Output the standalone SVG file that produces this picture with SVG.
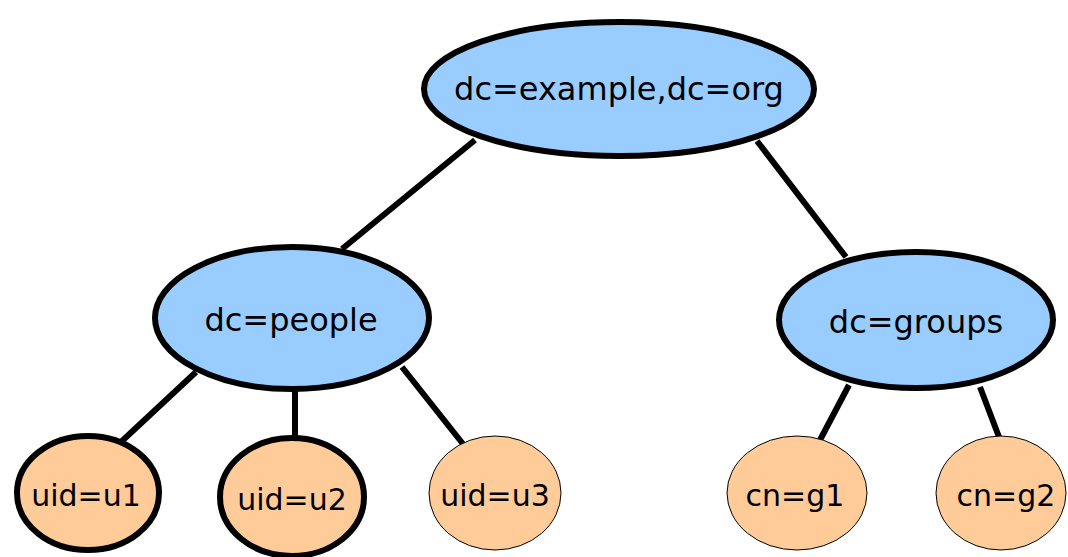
<svg xmlns="http://www.w3.org/2000/svg" width="1068" height="557" viewBox="0 0 1068 557">
<style>
.blue{fill:#99ccff;stroke:#000;stroke-width:6}
.org{fill:#ffcc99;stroke:#000;stroke-width:6}
.orgt{fill:#ffcc99;stroke:#000;stroke-width:1}
text{font-family:"DejaVu Sans",sans-serif;font-size:30px;fill:#000;text-anchor:middle}
text.big{font-size:32px}
.e{stroke:#000;stroke-width:6;fill:none}
</style>
<rect width="1068" height="557" fill="#fff"/>
<g id="connectors">
<line class="e" x1="475" y1="140" x2="342" y2="249"/>
<line class="e" x1="757" y1="141" x2="846" y2="257"/>
<line class="e" x1="196" y1="372" x2="122" y2="441"/>
<line class="e" x1="295" y1="390" x2="295" y2="437"/>
<line class="e" x1="402" y1="367" x2="463" y2="444"/>
<line class="e" x1="849" y1="385" x2="820" y2="440"/>
<line class="e" x1="980" y1="387" x2="999" y2="437"/>
</g>
<g id="root"><ellipse class="blue" cx="619" cy="89" rx="195" ry="67"/><text class="big" x="619" y="100">dc=example,dc=org</text></g>
<g id="people"><ellipse class="blue" cx="292" cy="318" rx="137" ry="71"/><text class="big" x="291" y="331">dc=people</text></g>
<g id="groups"><ellipse class="blue" cx="916" cy="320" rx="137" ry="68"/><text class="big" x="916" y="333">dc=groups</text></g>
<g id="u1"><ellipse class="org" cx="88" cy="493" rx="71" ry="57"/><text x="86" y="506">uid=u1</text></g>
<g id="u2"><ellipse class="org" cx="292" cy="497" rx="72" ry="59"/><text x="292" y="510">uid=u2</text></g>
<g id="u3"><ellipse class="orgt" cx="495" cy="493" rx="66" ry="57"/><text x="495" y="506">uid=u3</text></g>
<g id="g1"><ellipse class="orgt" cx="797" cy="493" rx="70" ry="57"/><text x="795" y="506">cn=g1</text></g>
<g id="g2"><ellipse class="orgt" cx="1001" cy="493" rx="65" ry="57"/><text x="1006" y="506">cn=g2</text></g>
</svg>
